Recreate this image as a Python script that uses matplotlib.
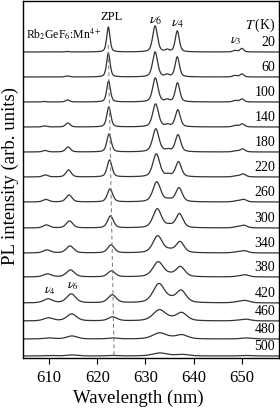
import numpy as np
import matplotlib
matplotlib.use("Agg")
import matplotlib.pyplot as plt

plt.rcParams['font.family'] = ['Liberation Serif', 'DejaVu Serif']
plt.rcParams['mathtext.fontset'] = 'stix'

# temperatures (K) and stacking offsets of each spectrum
temps = [20, 60, 100, 140, 180, 220, 260, 300, 340, 380, 420, 460, 480, 500]
offset = [308, 283, 258, 233, 208, 183, 158, 132, 107, 83, 57, 39, 21, 4]

# peak centres at 20 K (nm): AS v4, AS v6, ZPL, v6, shoulder, v4, v3a, v3b
centres = [609.0, 613.8, 622.3, 632.0, 634.5, 636.6, 648.6, 650.0]
width_scale = [1.0, 1.0, 0.9, 1.3, 1.0, 1.1, 1.2, 1.0]

# peak heights, one row per temperature
heights = [
    [0.0, 0.5, 25, 26, 2.0, 21, 1.5, 3.5],
    [0.0, 1.0, 24, 25, 2.0, 20, 1.5, 3.0],
    [0.5, 2.0, 21, 24, 2.0, 19, 1.5, 3.0],
    [1.0, 4.0, 20, 23, 2.0, 17, 1.5, 3.0],
    [1.5, 5.0, 18, 23, 2.0, 17, 1.0, 3.0],
    [2.0, 7.0, 17, 23, 2.0, 15, 1.0, 3.0],
    [2.5, 7.0, 13, 20, 2.0, 14, 1.0, 2.5],
    [3.0, 7.0, 12, 19, 2.0, 14, 1.0, 2.5],
    [3.0, 7.0, 8, 17, 2.0, 11, 1.0, 2.0],
    [3.0, 7.0, 6, 15, 1.5, 10, 0.5, 2.0],
    [4.0, 9.0, 8, 19, 2.0, 12, 1.0, 2.0],
    [3.0, 7.0, 4, 11, 1.0, 8, 0.5, 1.5],
    [1.0, 3.0, 1, 6, 0.5, 4, 0.0, 1.0],
    [0.5, 1.0, 0.5, 3, 0.0, 1.5, 0.0, 0.5],
]
# linewidth (FWHM, nm) and red shift of the lines with temperature
fwhm = [0.9, 0.95, 1.0, 1.1, 1.2, 1.3, 1.45, 1.6, 1.8, 2.0, 2.2, 2.4, 2.6, 2.8]
shift = [0.0, 0.0, 0.05, 0.1, 0.15, 0.25, 0.35, 0.45, 0.55, 0.65, 0.8, 0.9, 0.95, 1.0]

wl = np.linspace(604.6, 657.7, 1200)


def pvoigt(x, x0, h, w, eta=0.45):
    g = np.exp(-4 * np.log(2) * (x - x0) ** 2 / w ** 2)
    l = 1 / (1 + 4 * (x - x0) ** 2 / w ** 2)
    return h * (eta * l + (1 - eta) * g)


fig = plt.figure(figsize=(2.8, 4.08), dpi=100)
ax = fig.add_axes([23 / 280, 50 / 408, 256 / 280, 357 / 408])

for k, T in enumerate(temps):
    y = np.zeros_like(wl)
    for c, h, s in zip(centres, heights[k], width_scale):
        y += pvoigt(wl, c + shift[k], h, fwhm[k] * s)
    ax.plot(wl, y + offset[k], color='#333333', lw=0.9)
    ax.text(656.9, offset[k] + 3, str(T), ha='right', va='bottom', fontsize=10)

ax.plot([622.3, 623.5], [315, 3], ls=(0, (4, 3)), color='#777777', lw=0.7)

ax.text(622.9, 343, 'ZPL', ha='center', va='center', fontsize=9)
ax.text(632.0, 339, r'$\nu_6$', ha='center', va='center', fontsize=10)
ax.text(636.6, 336, r'$\nu_4$', ha='center', va='center', fontsize=10)
ax.text(648.8, 319, r'$\nu_3$', ha='center', va='center', fontsize=9)
ax.text(656.9, 334.5, r'$T\,$(K)', ha='right', va='center', fontsize=10)
ax.text(605.2, 326, r'Rb$_2$GeF$_6$:Mn$^{4+}$', ha='left', va='center', fontsize=8.5)
ax.text(610.2, 69, r'$\nu_4$', ha='center', va='center', fontsize=9)
ax.text(615.0, 74, r'$\nu_6$', ha='center', va='center', fontsize=9)

ax.set_xlim(604.6, 657.7)
ax.set_ylim(2, 359)
ax.set_xticks([610, 620, 630, 640, 650])
ax.set_yticks([])
ax.tick_params(axis='x', direction='out', length=4, labelsize=12, pad=5)
ax.set_xlabel('Wavelength (nm)', fontsize=13.5)
ax.set_ylabel('PL intensity (arb. units)', fontsize=13.5, labelpad=2)
ax.xaxis.set_label_coords((138.5 - 23) / 256, -0.09)
ax.yaxis.set_label_coords(-0.015, 0.51)
for sp in ax.spines.values():
    sp.set_linewidth(1.0)

fig.savefig('out.png', dpi=100)
